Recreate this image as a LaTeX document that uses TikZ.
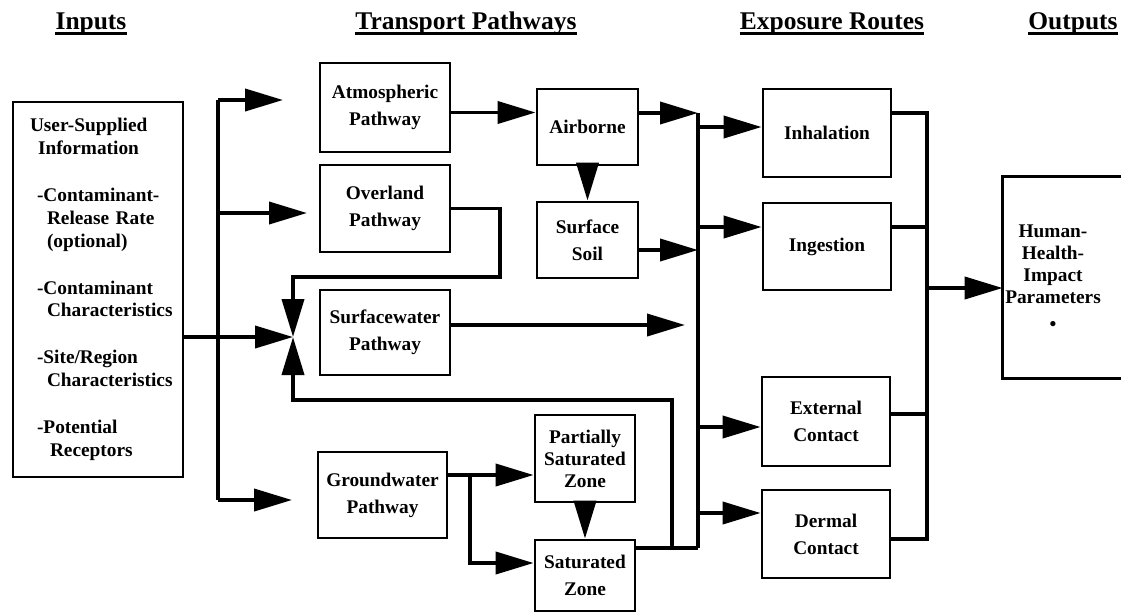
\documentclass[tikz,border=0pt]{standalone}
\usepackage{fontspec}
\setmainfont{Liberation Serif}
\usetikzlibrary{arrows.meta}

\begin{document}
\begin{tikzpicture}[x=0.02cm, y=-0.02cm,
    box/.style={draw, line width=1.6pt, align=center, inner sep=0pt,
      font=\fontsize{11}{15.5}\selectfont\bfseries},
    tight/.style={font=\fontsize{11}{12.5}\selectfont\bfseries},
    hdr/.style={inner sep=0pt, anchor=base, font=\fontsize{14.5}{17}\selectfont\bfseries},
    wire/.style={line width=2.2pt},
    arr/.style={wire, -{Triangle[length=0.76cm,width=0.44cm]}}]
    \useasboundingbox (0,0) rectangle (1121,613);

    % column headings
    \node[hdr] (hin) at (91,29) {Inputs};
    \node[hdr] (htr) at (466,29) {Transport Pathways};
    \node[hdr] (hex) at (832,29) {Exposure Routes};
    \node[hdr] (hout) at (1073,29) {Outputs};
    \foreach \h in {hin,htr,hex,hout}
        \draw[line width=1.3pt] ([yshift=-2.5pt]\h.base west) -- ([yshift=-2.5pt]\h.base east);

    % inputs
    \node[box, tight, font=\fontsize{11}{13}\selectfont\bfseries, align=left,
        text width=3.1cm, inner xsep=0.15cm, minimum height=7.5cm] (inp) at (98,289.5)
        {\hspace*{0.19cm}User-Supplied\\
         \hspace*{0.35cm}Information\\[0.48cm]
         \hspace*{0.33cm}-Contaminant-\\
         \hspace*{0.53cm}Release Rate\\
         \hspace*{0.53cm}(optional)\\[0.48cm]
         \hspace*{0.33cm}-Contaminant\\
         \hspace*{0.53cm}Characteristics\\[0.48cm]
         \hspace*{0.33cm}-Site/Region\\
         \hspace*{0.53cm}Characteristics\\[0.48cm]
         \hspace*{0.33cm}-Potential\\
         \hspace*{0.59cm}Receptors};

    % transport pathways
    \node[box, minimum width=2.6cm, minimum height=1.78cm] (atm) at (385,107.5) {Atmospheric\\Pathway};
    \node[box, minimum width=2.6cm, minimum height=1.74cm] (ovl) at (385,208.5) {Overland\\Pathway};
    \node[box, minimum width=2.6cm, minimum height=1.7cm] (sfw) at (385,332.5) {Surfacewater\\Pathway};
    \node[box, minimum width=2.58cm, minimum height=1.72cm] (gw) at (382.5,495) {Groundwater\\Pathway};
    \node[box, minimum width=2.02cm, minimum height=1.52cm] (air) at (587.5,127) {Airborne};
    \node[box, minimum width=2.02cm, minimum height=1.52cm] (soil) at (587.5,240) {Surface\\Soil};
    \node[box, tight, minimum width=2cm, minimum height=1.74cm] (psz) at (585,458.5) {Partially\\Saturated\\Zone};
    \node[box, minimum width=2cm, minimum height=1.42cm] (sat) at (585,575.5) {Saturated\\Zone};

    % exposure routes
    \node[box, minimum width=2.56cm, minimum height=1.76cm] (inh) at (827,133) {Inhalation};
    \node[box, minimum width=2.56cm, minimum height=1.74cm] (ing) at (827,246.5) {Ingestion};
    \node[box, minimum width=2.56cm, minimum height=1.78cm] (ext) at (826,421.5) {External\\Contact};
    \node[box, minimum width=2.56cm, minimum height=1.76cm] (der) at (826,534) {Dermal\\Contact};

    % outputs (box runs off the right edge)
    \node[tight, align=center, inner sep=0pt, minimum width=2cm, minimum height=4.02cm] (hum) at (1053,277.5)
        {Human-\\Health-\\Impact\\Parameters\\[0.6ex]\textbullet};
    \draw[line width=1.6pt] ([xshift=1.5cm]hum.north east) -- (hum.north west) -- (hum.south west) -- ([xshift=1.5cm]hum.south east);

    % feed from the inputs
    \coordinate (tk1) at (218,100);
    \coordinate (tk2) at (218,213);
    \coordinate (tk3) at (218,500);
    \coordinate (a1) at (283,100);
    \coordinate (a2) at (307,213);
    \coordinate (a3) at (292,500);
    \coordinate (bow) at (293,337);
    \draw[wire] (tk1) -- (tk3);
    \draw[arr] (tk1) -- (a1);
    \draw[arr] (tk2) -- (a2);
    \draw[arr] (tk3) -- (a3);
    \draw[arr] (inp.east |- bow) -- (bow);

    % collector bus
    \coordinate (c1) at (698,113);
    \coordinate (c3) at (698,250);
    \coordinate (c4) at (698,548);
    \coordinate (sw) at (685,325);

    % overland and return loops into surfacewater
    \coordinate (ol) at (500,277);
    \coordinate (rt) at (672,400);
    \draw[arr] (ovl.east) -| (ol) -| (bow);
    \draw[arr] (rt |- c4) -- (rt) -| (bow);

    % inside the transport column
    \draw[arr] ([yshift=-0.1cm]atm.east) -- ([yshift=-0.1cm]atm.east -| air.west);
    \draw[arr] (air.south) -- (soil.north);
    \draw[arr] (psz.south) -- (sat.north);
    \coordinate (g1) at (470,475);
    \coordinate (g2) at (470,563);
    \draw[arr] (gw.east |- g1) -- (g1 -| psz.west);
    \draw[arr] (g1) -- (g2) -- (g2 -| sat.west);

    \draw[wire] (c1) -- (c4);
    \draw[wire] (sat.east |- c4) -- (c4);
    \draw[arr] (air.east |- c1) -- (c1);
    \draw[arr] (soil.east |- c3) -- (c3);
    \draw[arr] (sfw.east |- sw) -- (sw);

    % into the exposure routes
    \coordinate (e1) at (698,127);
    \coordinate (e2) at (698,227);
    \coordinate (e3) at (698,427);
    \coordinate (e4) at (698,513);
    \draw[arr] (e1) -- (e1 -| inh.west);
    \draw[arr] (e2) -- (e2 -| ing.west);
    \draw[arr] (e3) -- (e3 -| ext.west);
    \draw[arr] (e4) -- (e4 -| der.west);

    % output bus
    \coordinate (o1) at (927,113);
    \coordinate (o2) at (927,227);
    \coordinate (o3) at (927,414);
    \coordinate (o4) at (927,539);
    \coordinate (o5) at (927,288);
    \draw[wire] (inh.east |- o1) -- (o1) -- (o4) -- (o4 -| der.east);
    \draw[wire] (ing.east |- o2) -- (o2);
    \draw[wire] (ext.east |- o3) -- (o3);
    \draw[arr] (o5) -- (o5 -| hum.west);
\end{tikzpicture}
\end{document}
